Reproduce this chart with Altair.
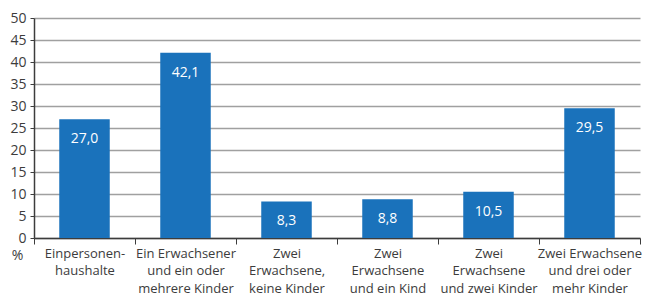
import altair as alt
import pandas as pd

categories = [
    "Einpersonen-\nhaushalte",
    "Ein Erwachsener\nund ein oder\nmehrere Kinder",
    "Zwei\nErwachsene,\nkeine Kinder",
    "Zwei\nErwachsene\nund ein Kind",
    "Zwei\nErwachsene\nund zwei Kinder",
    "Zwei Erwachsene\nund drei oder\nmehr Kinder",
]
values = [27.0, 42.1, 8.3, 8.8, 10.5, 29.5]
labels = ["27,0", "42,1", "8,3", "8,8", "10,5", "29,5"]
y_ticks = [0, 5, 10, 15, 20, 25, 30, 35, 40, 45, 50]

df = pd.DataFrame({"cat": categories, "value": values, "label": labels})

FONT = "Open Sans"
GREY = "#3c3c3c"

x = alt.X(
    "cat:N",
    sort=categories,
    title=None,
    scale=alt.Scale(paddingInner=0, paddingOuter=0),
    axis=alt.Axis(
        labelExpr="split(datum.label, '\\n')",
        labelAngle=0,
        labelFont=FONT,
        labelFontSize=13,
        labelColor=GREY,
        labelLineHeight=17.5,
        labelPadding=3,
        labelBaseline="top",
        tickBand="extent",
        tickSize=6,
        tickColor=GREY,
        tickWidth=1,
        domainColor=GREY,
        domainWidth=1.5,
        grid=False,
        labelOverlap=False,
    ),
)

y = alt.Y(
    "value:Q",
    scale=alt.Scale(domain=[0, 50], nice=False),
    axis=alt.Axis(
        values=y_ticks,
        labelOverlap=False,
        title="%",
        titleAngle=0,
        titleX=-17,
        titleY=237,
        titleAlign="center",
        titleBaseline="middle",
        titleFont=FONT,
        titleFontSize=14,
        titleFontWeight="normal",
        titleColor=GREY,
        labelFont=FONT,
        labelFontSize=14,
        labelColor=GREY,
        labelPadding=4,
        tickSize=4,
        tickColor=GREY,
        domainColor=GREY,
        domainWidth=1.5,
        gridColor="#a0a0a0",
        gridWidth=1.5,
    ),
)

base = alt.Chart(df).encode(x=x, y=y)
bars = base.mark_bar(color="#1a72bb", width=alt.RelativeBandSize(0.5))
text = base.mark_text(
    color="white", font=FONT, fontSize=14, baseline="middle", dy=20
).encode(text="label:N")

chart = (
    alt.layer(bars, text)
    .properties(
        width=606,
        height=220,
        autosize=alt.AutoSizeParams(type="none"),
        padding={"left": 26, "top": 10, "right": 5, "bottom": 62},
    )
    .configure_view(stroke=None)
)

chart.save("out.html", embed_options={"renderer": "svg", "actions": False})
